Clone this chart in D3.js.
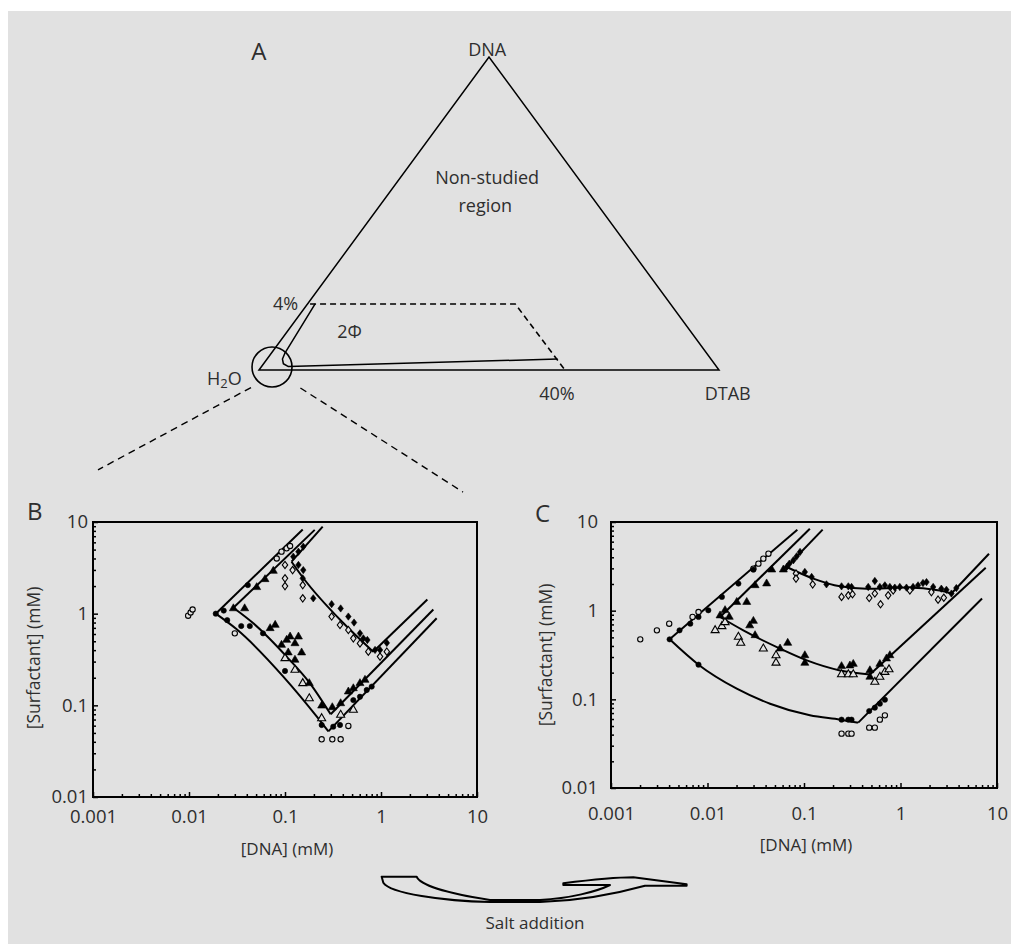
<!DOCTYPE html>
<html>
<head>
<meta charset="utf-8">
<script src="https://cdn.jsdelivr.net/npm/d3@7"></script>
<style>
  body { margin: 0; background: #fff; }
  text { font-family: "Open Sans", "Noto Sans", sans-serif; fill: #2e2e2e; }
</style>
</head>
<body>
<svg id="fig" width="1011" height="944"></svg>
<script>
// ---------- Tick labels ----------
const xTickValues = [0.001, 0.01, 0.1, 1, 10];
const xTickLabels = ["0.001", "0.01", "0.1", "1", "10"];
const yTickValues = [0.01, 0.1, 1, 10];
const yTickLabels = ["0.01", "0.1", "1", "10"];

// ---------- Panel B (no salt) ----------
// boundaries: [top end, vertex, ...curve..., minimum, right end]
const bOuter  = [[0.153, 8.3], [0.019, 1.0], [0.0314, 0.675], [0.096, 0.206], [0.222, 0.072], [0.283, 0.052], [3.80, 0.89]];
const bMiddle = [[0.204, 8.2], [0.029, 1.16], [0.0468, 0.785], [0.104, 0.34], [0.182, 0.174], [0.299, 0.080], [3.51, 1.11]];
const bUpper  = [[0.247, 8.9], [0.117, 3.69], [0.155, 2.45], [0.40, 0.80], [0.83, 0.385], [3.04, 1.43]];

const bOpenCircle = [[0.0098, 0.95], [0.0104, 1.03], [0.0109, 1.11], [0.030, 0.61], [0.082, 4.0], [0.092, 4.75],
  [0.104, 5.16], [0.113, 5.47], [0.241, 0.0426], [0.311, 0.0426], [0.38, 0.0426], [0.457, 0.0596]];
const bFilledCircle = [[0.019, 1.0], [0.023, 1.08], [0.041, 2.05], [0.025, 0.85], [0.035, 0.733], [0.043, 0.733],
  [0.059, 0.61], [0.1, 0.237], [0.241, 0.061], [0.318, 0.0585], [0.374, 0.061], [0.515, 0.114], [0.604, 0.124],
  [0.71, 0.147], [0.80, 0.16]];
const bFilledTri = [[0.029, 1.14], [0.038, 1.14], [0.0507, 1.94], [0.0619, 2.37], [0.0755, 2.92], [0.07, 0.692],
  [0.079, 0.752], [0.092, 0.455], [0.104, 0.516], [0.113, 0.561], [0.138, 0.561], [0.127, 0.474], [0.108, 0.376],
  [0.149, 0.376], [0.127, 0.313], [0.179, 0.174], [0.241, 0.099], [0.311, 0.095], [0.38, 0.105], [0.457, 0.141],
  [0.515, 0.153], [0.604, 0.174], [0.681, 0.189]];
const bOpenTri = [[0.1, 0.326], [0.127, 0.243], [0.153, 0.174], [0.179, 0.119], [0.241, 0.0721], [0.38, 0.0785],
  [0.515, 0.089]];
const bFilledDiamond = [[0.122, 4.19], [0.138, 4.74], [0.155, 5.38], [0.138, 3.4], [0.155, 2.99], [0.153, 2.43],
  [0.197, 1.47], [0.306, 1.27], [0.38, 1.14], [0.457, 0.93], [0.524, 0.8], [0.604, 0.61], [0.655, 0.538],
  [0.721, 0.516], [0.867, 0.402], [0.977, 0.402], [1.15, 0.48]];
const bOpenDiamond = [[0.1, 3.4], [0.1, 2.43], [0.1, 2.0], [0.12, 2.99], [0.153, 2.05], [0.153, 1.47], [0.306, 0.93],
  [0.374, 0.752], [0.457, 0.664], [0.515, 0.538], [0.604, 0.474], [0.738, 0.385], [0.977, 0.34], [1.15, 0.385]];

// ---------- Panel C (salt added) ----------
const cOuter  = [[0.0853, 8.2], [0.00405, 0.475], [0.00807, 0.246], [0.0201, 0.132], [0.0445, 0.0893], [0.115, 0.066],
  [0.236, 0.059], [0.365, 0.0546], [7.0, 1.37]];
const cMiddle = [[0.115, 8.41], [0.0135, 0.849], [0.0235, 0.60], [0.0565, 0.373], [0.107, 0.275], [0.236, 0.212],
  [0.482, 0.191], [7.64, 3.05]];
const cUpper  = [[0.156, 8.2], [0.0662, 3.11], [0.125, 2.30], [0.236, 1.88], [0.445, 1.77], [1.153, 1.82],
  [2.55, 1.69], [3.37, 1.56], [8.26, 4.39]];

const cOpenCircle = [[0.00201, 0.475], [0.00299, 0.60], [0.00401, 0.713], [0.0070, 0.849], [0.00807, 0.966],
  [0.0299, 2.98], [0.0337, 3.39], [0.0379, 3.86], [0.0428, 4.39], [0.245, 0.041], [0.288, 0.041], [0.311, 0.041],
  [0.474, 0.0479], [0.542, 0.0479], [0.611, 0.059], [0.689, 0.066]];
const cFilledCircle = [[0.00405, 0.475], [0.00513, 0.60], [0.00663, 0.713], [0.00807, 0.849], [0.00807, 0.246],
  [0.0102, 1.01], [0.0141, 1.43], [0.0209, 2.02], [0.0299, 2.9], [0.245, 0.059], [0.288, 0.059], [0.311, 0.059],
  [0.474, 0.0738], [0.542, 0.0805], [0.611, 0.0893], [0.689, 0.099]];
const cFilledTri = [[0.0135, 0.88], [0.0152, 1.01], [0.0201, 1.25], [0.0255, 1.25], [0.0311, 1.93], [0.041, 2.02],
  [0.0463, 2.9], [0.0611, 2.9], [0.0168, 0.849], [0.0299, 0.764], [0.0274, 0.68], [0.0311, 0.527], [0.0678, 0.432],
  [0.0565, 0.373], [0.102, 0.313], [0.102, 0.257], [0.245, 0.236], [0.299, 0.24], [0.324, 0.25], [0.482, 0.212],
  [0.482, 0.179], [0.611, 0.25], [0.716, 0.288], [0.776, 0.313]];
const cOpenTri = [[0.012, 0.60], [0.0141, 0.666], [0.0152, 0.74], [0.0209, 0.505], [0.0221, 0.432], [0.0379, 0.373],
  [0.0513, 0.313], [0.0513, 0.258], [0.245, 0.191], [0.288, 0.191], [0.324, 0.191], [0.542, 0.157], [0.611, 0.179],
  [0.689, 0.203], [0.76, 0.217]];
const cFilledDiamond = [[0.0662, 3.11], [0.0705, 3.39], [0.0776, 3.7], [0.084, 4.1], [0.091, 4.59], [0.102, 2.73],
  [0.12, 2.4], [0.171, 1.98], [0.245, 1.88], [0.288, 1.88], [0.311, 1.85], [0.463, 1.85], [0.542, 2.16], [0.611, 1.85],
  [0.689, 1.93], [0.776, 1.85], [0.873, 1.82], [0.984, 1.85], [1.153, 1.82], [1.35, 1.85], [1.52, 1.93], [1.71, 2.05],
  [1.86, 2.1], [2.18, 1.85], [2.65, 1.77], [2.99, 1.72], [3.37, 1.56], [3.79, 1.80]];
const cOpenDiamond = [[0.0826, 2.62], [0.0826, 2.30], [0.123, 1.98], [0.245, 1.43], [0.288, 1.49], [0.318, 1.53],
  [0.474, 1.39], [0.542, 1.56], [0.621, 1.18], [0.745, 1.49], [0.84, 1.69], [1.25, 1.69], [2.09, 1.62], [2.45, 1.33],
  [2.81, 1.40]];

// ---------- Ternary schematic (fractions of the triangle) ----------
const triOutline = [[0, 0], [0.5, 1], [1, 0]];
const twoPhaseDashed = [[0.111, 0.211], [0.557, 0.211], [0.665, 0]];
const twoPhaseSolid = [[0.122, 0.211], [0.056, 0.053], [0.051, 0.035], [0.053, 0.02], [0.064, 0.011], [0.649, 0.035]];
const zoomLeft = [[-0.0174, -0.056], [-0.35, -0.319]];
const zoomRight = [[0.090, -0.0575], [0.4435, -0.39]];
const zoomCircle = [0.0283, 0.0096];
const triLabels = [
  { text: "DNA", u: 0.496, v: 1.003, anchor: "middle" },
  { text: "Non-studied", u: 0.496, v: 0.594, anchor: "middle" },
  { text: "region", u: 0.492, v: 0.505, anchor: "middle" },
  { text: "4%", u: 0.085, v: 0.192, anchor: "end" },
  { text: "2Φ", u: 0.17, v: 0.102, anchor: "start" },
  { text: "40%", u: 0.609, v: -0.096, anchor: "start" },
  { text: "DTAB", u: 0.969, v: -0.096, anchor: "start" }
];

const BG = '#e1e1e1';

// rhombus a bit narrower than tall
const symbolRhomb = {
  draw(context, size) {
    const h = Math.sqrt(size / 1.5);
    const w = h * 0.75;
    context.moveTo(0, -h);
    context.lineTo(w, 0);
    context.lineTo(0, h);
    context.lineTo(-w, 0);
    context.closePath();
  }
};

class LogPanel {

  constructor(_config, _data) {
    this.config = _config;
    this.data = _data;
    this.initVis();
  }

  initVis() {
    let vis = this;
    const c = vis.config;

    vis.g = d3.select(c.parentElement).append('g');

    vis.x = d3.scaleLog().domain([0.001, 10]).range([c.left, c.left + c.width]);
    vis.y = d3.scaleLog().domain([0.01, 10]).range([c.top + c.height, c.top]);

    // minor ticks 2..9 in each decade
    vis.xMinor = [];
    xTickValues.slice(0, -1).forEach(d => { for (let k = 2; k < 10; k++) vis.xMinor.push(d * k); });
    vis.yMinor = [];
    yTickValues.slice(0, -1).forEach(d => { for (let k = 2; k < 10; k++) vis.yMinor.push(d * k); });

    vis.renderVis();
  }

  renderVis() {
    let vis = this;
    const c = vis.config;
    const bottom = c.top + c.height;

    // Axes (ticks pointing inward)
    const xAx = vis.g.append('g').attr('transform', `translate(0,${bottom})`)
      .call(d3.axisBottom(vis.x).tickValues(xTickValues).tickFormat((d, i) => xTickLabels[i])
        .tickSize(-5).tickPadding(c.xPad));
    vis.g.append('g').attr('transform', `translate(0,${bottom})`)
      .call(d3.axisBottom(vis.x).tickValues(vis.xMinor).tickFormat('').tickSize(-3));
    const yAx = vis.g.append('g').attr('transform', `translate(${c.left},0)`)
      .call(d3.axisLeft(vis.y).tickValues(yTickValues).tickFormat((d, i) => yTickLabels[i])
        .tickSize(-5).tickPadding(c.yPad));
    vis.g.append('g').attr('transform', `translate(${c.left},0)`)
      .call(d3.axisLeft(vis.y).tickValues(vis.yMinor).tickFormat('').tickSize(-3));

    vis.g.selectAll('.domain').remove();
    vis.g.selectAll('.tick line').attr('stroke', '#000').attr('stroke-width', 1.5);
    xAx.selectAll('text').attr('font-size', 18.5).attr('fill', '#2e2e2e');
    yAx.selectAll('text').attr('font-size', 18.5).attr('fill', '#2e2e2e');

    // frame
    vis.g.append('rect')
      .attr('x', c.left).attr('y', c.top)
      .attr('width', c.width).attr('height', c.height)
      .attr('fill', 'none').attr('stroke', '#000').attr('stroke-width', 2);

    // Boundaries: straight branch, curved bottom, straight branch
    const line = d3.line().x(d => vis.x(d[0])).y(d => vis.y(d[1]));
    const curve = d3.line().x(d => vis.x(d[0])).y(d => vis.y(d[1])).curve(d3.curveMonotoneX);
    vis.data.boundaries.forEach(b => {
      const n = b.length;
      [line(b.slice(0, 2)), curve(b.slice(1, n - 1)), line(b.slice(n - 2))].forEach(p => {
        vis.g.append('path').attr('d', p)
          .attr('fill', 'none').attr('stroke', '#000').attr('stroke-width', 2)
          .attr('stroke-linejoin', 'round');
      });
    });

    // Markers
    vis.data.series.forEach(s => {
      const sym = d3.symbol().type(s.type).size(s.size);
      vis.g.append('g').selectAll('path')
        .data(s.values)
        .join('path')
          .attr('transform', d => `translate(${vis.x(d[0])},${vis.y(d[1])})`)
          .attr('d', sym)
          .attr('fill', s.filled ? '#000' : BG)
          .attr('stroke', '#000')
          .attr('stroke-width', s.filled ? 0.6 : 1.1);
    });

    // Titles and panel letter
    vis.g.append('text')
      .attr('x', c.xTitle[0]).attr('y', c.xTitle[1])
      .attr('text-anchor', 'middle').attr('font-size', 17)
      .text('[DNA] (mM)');
    vis.g.append('text')
      .attr('transform', `translate(${c.yTitle[0]},${c.yTitle[1]}) rotate(-90)`)
      .attr('text-anchor', 'middle').attr('font-size', 17.5)
      .text('[Surfactant] (mM)');
    vis.g.append('text')
      .attr('x', c.letter[0]).attr('y', c.letter[1])
      .attr('font-size', 24)
      .text(c.letterText);
  }
}

const svg = d3.select('#fig');
svg.append('rect').attr('x', 8).attr('y', 11).attr('width', 1003).attr('height', 933).attr('fill', BG);

// ---------- Panel A ----------
const tx = d3.scaleLinear().domain([0, 1]).range([259, 719]);
const ty = d3.scaleLinear().domain([0, 1]).range([370, 57]);
const triLine = d3.line().x(d => tx(d[0])).y(d => ty(d[1]));
const gA = svg.append('g');

gA.append('path').attr('d', triLine(triOutline) + 'Z')
  .attr('fill', 'none').attr('stroke', '#000').attr('stroke-width', 1.5).attr('stroke-linejoin', 'miter');
gA.append('path').attr('d', triLine(twoPhaseDashed))
  .attr('fill', 'none').attr('stroke', '#000').attr('stroke-width', 1.6).attr('stroke-dasharray', '6,4');
gA.append('path').attr('d', triLine(twoPhaseSolid))
  .attr('fill', 'none').attr('stroke', '#000').attr('stroke-width', 1.5).attr('stroke-linejoin', 'round');
gA.append('circle').attr('cx', tx(zoomCircle[0])).attr('cy', ty(zoomCircle[1])).attr('r', 20)
  .attr('fill', 'none').attr('stroke', '#000').attr('stroke-width', 1.6);
[zoomLeft, zoomRight].forEach(z => {
  gA.append('path').attr('d', triLine(z))
    .attr('fill', 'none').attr('stroke', '#000').attr('stroke-width', 1.4).attr('stroke-dasharray', '7,5');
});

gA.selectAll('.tlabel')
  .data(triLabels)
  .join('text')
    .attr('class', 'tlabel')
    .attr('x', d => tx(d.u)).attr('y', d => ty(d.v))
    .attr('text-anchor', d => d.anchor)
    .attr('font-size', 18)
    .text(d => d.text);

const h2o = gA.append('text').attr('x', tx(-0.113)).attr('y', ty(-0.048)).attr('font-size', 18);
h2o.append('tspan').text('H');
h2o.append('tspan').attr('font-size', 13).attr('dy', 3).text('2');
h2o.append('tspan').attr('dy', -3).text('O');

gA.append('text').attr('x', tx(-0.017)).attr('y', ty(0.99)).attr('font-size', 24).text('A');

// ---------- Panels B and C ----------
new LogPanel({
  parentElement: '#fig',
  left: 93, top: 522, width: 384, height: 275,
  xPad: 13, yPad: 5,
  xTitle: [287, 855], yTitle: [40, 658],
  letter: [27, 520], letterText: 'B'
}, {
  boundaries: [bOuter, bMiddle, bUpper],
  series: [
    { values: bOpenCircle, type: d3.symbolCircle, size: 22, filled: false },
    { values: bFilledCircle, type: d3.symbolCircle, size: 22, filled: true },
    { values: bOpenTri, type: d3.symbolTriangle, size: 28, filled: false },
    { values: bFilledTri, type: d3.symbolTriangle, size: 28, filled: true },
    { values: bOpenDiamond, type: symbolRhomb, size: 20, filled: false },
    { values: bFilledDiamond, type: symbolRhomb, size: 20, filled: true }
  ]
});

new LogPanel({
  parentElement: '#fig',
  left: 611, top: 522, width: 386, height: 266,
  xPad: 19, yPad: 13,
  xTitle: [806, 851], yTitle: [552, 655],
  letter: [535, 522], letterText: 'C'
}, {
  boundaries: [cOuter, cMiddle, cUpper],
  series: [
    { values: cOpenCircle, type: d3.symbolCircle, size: 22, filled: false },
    { values: cFilledCircle, type: d3.symbolCircle, size: 22, filled: true },
    { values: cOpenTri, type: d3.symbolTriangle, size: 28, filled: false },
    { values: cFilledTri, type: d3.symbolTriangle, size: 28, filled: true },
    { values: cOpenDiamond, type: symbolRhomb, size: 20, filled: false },
    { values: cFilledDiamond, type: symbolRhomb, size: 20, filled: true }
  ]
});

// ---------- Salt addition arrow ----------
const gArrow = svg.append('g').attr('transform', 'translate(370,840) scale(0.3333)');
gArrow.append('path')
  .attr('d', 'M35,110 L140,110 C150,135 230,160 360,180 L510,180 C600,175 680,155 720,135 L580,135 L580,130 ' +
             'C660,120 730,112 790,112 L950,133 L950,137 L825,137 C760,155 640,182 510,186 L360,186 ' +
             'C220,183 60,160 40,128 Z')
  .attr('fill', 'none').attr('stroke', '#000').attr('stroke-width', 6).attr('stroke-linejoin', 'round');
svg.append('text').attr('x', 535).attr('y', 929).attr('text-anchor', 'middle').attr('font-size', 17)
  .text('Salt addition');
</script>
</body>
</html>
